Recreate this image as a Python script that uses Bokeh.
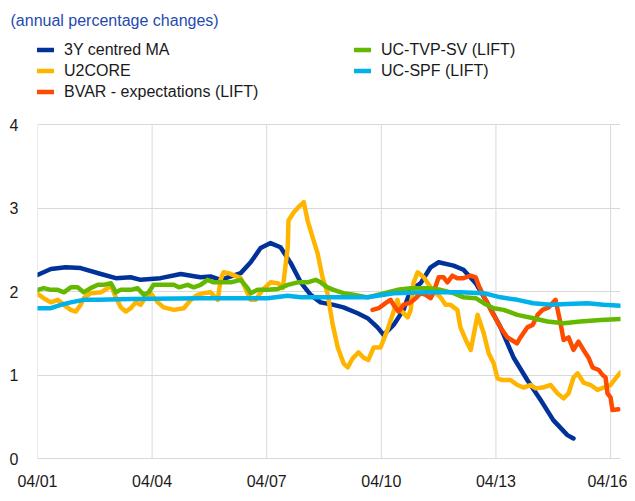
from bokeh.plotting import figure
from bokeh.models import Range1d, FixedTicker, Legend, LegendItem, Title
from bokeh.embed import file_html
from bokeh.resources import INLINE

# ---------------- data ----------------
tick_pos = [2001, 2004, 2007, 2010, 2013, 2016]
tick_labels = ["04/01", "04/04", "04/07", "04/10", "04/13", "04/16"]
y_ticks = [0, 1, 2, 3, 4]

ma_x = [2001.01, 2001.35, 2001.74, 2002.13, 2002.66, 2003.05, 2003.44, 2003.70, 2004.22, 2004.75,
        2005.14, 2005.27, 2005.53, 2005.79, 2006.32, 2006.58, 2006.84, 2007.10, 2007.36, 2007.63,
        2007.89, 2008.15, 2008.41, 2008.75, 2009.01, 2009.38, 2009.64, 2009.90, 2010.06, 2010.32,
        2010.58, 2010.77, 2011.03, 2011.29, 2011.50, 2011.89, 2012.15, 2012.47, 2012.78, 2013.12,
        2013.46, 2013.82, 2014.17, 2014.50, 2014.87, 2015.03]
ma_y = [2.20, 2.27, 2.29, 2.28, 2.21, 2.16, 2.17, 2.14, 2.16, 2.21,
        2.18, 2.17, 2.18, 2.14, 2.22, 2.35, 2.52, 2.58, 2.53, 2.34,
        2.11, 1.96, 1.87, 1.84, 1.81, 1.74, 1.68, 1.57, 1.48, 1.60,
        1.78, 2.02, 2.10, 2.29, 2.35, 2.31, 2.26, 2.10, 1.86, 1.57,
        1.21, 0.94, 0.70, 0.46, 0.28, 0.24]

u2_x = [2001.01, 2001.16, 2001.35, 2001.53, 2001.69, 2001.87, 2002.00, 2002.13, 2002.21, 2002.39,
        2002.66, 2002.84, 2002.92, 2003.05, 2003.18, 2003.31, 2003.44, 2003.57, 2003.70, 2003.83,
        2003.96, 2004.15, 2004.30, 2004.57, 2004.83, 2005.01, 2005.19, 2005.35, 2005.53, 2005.72,
        2005.79, 2005.87, 2006.00, 2006.32, 2006.58, 2006.71, 2006.89, 2007.10, 2007.29, 2007.42,
        2007.55, 2007.57, 2007.71, 2007.83, 2007.97, 2008.07, 2008.20, 2008.33, 2008.46, 2008.59,
        2008.72, 2008.86, 2009.01, 2009.12, 2009.25, 2009.40, 2009.53, 2009.66, 2009.80, 2009.98,
        2010.16, 2010.29, 2010.42, 2010.50, 2010.69, 2010.77, 2010.84, 2010.95, 2011.11, 2011.29,
        2011.55, 2011.68, 2011.81, 2011.99, 2012.07, 2012.21, 2012.34, 2012.52, 2012.68, 2012.81,
        2012.94, 2013.04, 2013.17, 2013.38, 2013.56, 2013.72, 2013.90, 2014.04, 2014.22, 2014.43,
        2014.61, 2014.77, 2014.90, 2015.03, 2015.14, 2015.29, 2015.48, 2015.66, 2015.82, 2016.00,
        2016.13, 2016.26]
u2_y = [1.97, 1.92, 1.87, 1.90, 1.84, 1.78, 1.76, 1.84, 1.92, 1.98,
        1.99, 2.04, 2.08, 1.93, 1.81, 1.76, 1.80, 1.87, 1.84, 1.93,
        1.98, 1.87, 1.81, 1.78, 1.80, 1.90, 1.96, 1.98, 1.99, 1.90,
        2.14, 2.23, 2.22, 2.16, 1.90, 1.90, 2.02, 2.11, 2.10, 2.04,
        2.53, 2.85, 2.95, 3.01, 3.07, 2.85, 2.65, 2.46, 2.17, 1.98,
        1.62, 1.33, 1.14, 1.09, 1.20, 1.27, 1.21, 1.18, 1.33, 1.33,
        1.54, 1.72, 1.90, 1.78, 1.69, 1.78, 2.10, 2.23, 2.17, 2.05,
        1.93, 1.84, 1.84, 1.78, 1.57, 1.42, 1.30, 1.72, 1.50, 1.26,
        1.14, 0.96, 0.94, 0.94, 0.88, 0.85, 0.88, 0.84, 0.85, 0.88,
        0.78, 0.72, 0.78, 0.97, 1.02, 0.91, 0.88, 0.82, 0.85, 0.88,
        0.96, 1.03]

bvar_x = [2009.77, 2009.93, 2010.11, 2010.24, 2010.32, 2010.45, 2010.58, 2010.77, 2010.90, 2011.03,
          2011.16, 2011.29, 2011.36, 2011.50, 2011.63, 2011.73, 2011.86, 2011.99, 2012.15, 2012.34,
          2012.47, 2012.55, 2012.73, 2012.91, 2013.12, 2013.30, 2013.55, 2013.64, 2013.82, 2013.96,
          2014.09, 2014.22, 2014.38, 2014.56, 2014.69, 2014.77, 2014.90, 2015.03, 2015.16, 2015.29,
          2015.42, 2015.53, 2015.69, 2015.79, 2015.87, 2015.92, 2016.00, 2016.05, 2016.21]
bvar_y = [1.78, 1.80, 1.86, 1.90, 1.84, 1.76, 1.84, 1.87, 1.92, 1.98,
          1.96, 1.92, 1.98, 2.17, 2.17, 2.11, 2.19, 2.16, 2.16, 2.19,
          2.17, 2.07, 1.90, 1.74, 1.57, 1.45, 1.38, 1.45, 1.57, 1.60,
          1.72, 1.78, 1.81, 1.90, 1.62, 1.42, 1.45, 1.30, 1.40, 1.30,
          1.21, 1.09, 1.06, 1.00, 0.97, 0.78, 0.73, 0.58, 0.59]

tvp_x = [2001.01, 2001.16, 2001.35, 2001.53, 2001.69, 2001.87, 2002.05, 2002.21, 2002.39, 2002.58,
         2002.73, 2002.92, 2003.05, 2003.18, 2003.44, 2003.62, 2003.78, 2003.91, 2004.04, 2004.30,
         2004.57, 2004.70, 2004.93, 2005.09, 2005.27, 2005.45, 2005.61, 2005.79, 2006.06, 2006.32,
         2006.50, 2006.58, 2006.76, 2007.02, 2007.29, 2007.55, 2007.81, 2008.07, 2008.28, 2008.41,
         2008.59, 2008.75, 2009.01, 2009.28, 2009.64, 2009.90, 2010.16, 2010.42, 2010.77, 2011.21,
         2011.55, 2011.89, 2012.15, 2012.47, 2012.68, 2012.94, 2013.20, 2013.56, 2013.98, 2014.35,
         2014.77, 2015.21, 2015.74, 2016.26]
tvp_y = [2.02, 2.04, 2.02, 2.02, 1.99, 2.05, 2.05, 1.99, 2.04, 2.08,
         2.08, 2.10, 1.99, 2.02, 2.02, 2.04, 1.96, 1.99, 2.08, 2.08,
         2.08, 2.05, 2.08, 2.05, 2.08, 2.14, 2.11, 2.11, 2.11, 2.14,
         2.04, 1.98, 2.02, 2.02, 2.03, 2.08, 2.11, 2.11, 2.14, 2.11,
         2.05, 2.02, 1.98, 1.96, 1.93, 1.96, 1.99, 2.02, 2.04, 2.04,
         2.02, 1.98, 1.93, 1.92, 1.86, 1.80, 1.78, 1.72, 1.68, 1.64,
         1.62, 1.64, 1.66, 1.67]

spf_x = [2001.01, 2001.35, 2001.61, 2001.87, 2002.21, 2002.58, 2003.44, 2005.27, 2007.02, 2007.55,
         2007.89, 2008.75, 2009.64, 2010.32, 2011.21, 2012.07, 2012.68, 2013.12, 2013.56, 2013.98,
         2014.43, 2014.87, 2015.39, 2015.82, 2016.26]
spf_y = [1.80, 1.80, 1.84, 1.87, 1.90, 1.90, 1.91, 1.92, 1.92, 1.95,
         1.93, 1.93, 1.93, 1.98, 1.99, 1.99, 1.98, 1.93, 1.90, 1.86,
         1.84, 1.85, 1.86, 1.84, 1.83]

# ---------------- figure ----------------
FONT = "Liberation Sans"
TXT = "#1a1a1a"
GRID = "#d9d9d9"
PX_PER_UNIT = 83.5          # vertical scale of the reference
FRAME_H = 458 - 30          # frame spans the legend area too (legends are clipped to the frame)

p = figure(width=627, height=493, output_backend="svg", toolbar_location=None,
           x_range=Range1d(2001.0, 2016.26), y_range=Range1d(0, FRAME_H / PX_PER_UNIT),
           min_border_left=37, min_border_right=7, min_border_top=30, min_border_bottom=35)
p.outline_line_color = None
p.background_fill_color = "white"

p.title = Title(text="(annual percentage changes)", align="left", offset=-27, standoff=3,
                text_font=FONT, text_font_size="16px", text_font_style="normal",
                text_color="#1f4bb0")

p.xaxis.ticker = FixedTicker(ticks=tick_pos)
p.xaxis.major_label_overrides = {t: l for t, l in zip(tick_pos, tick_labels)}
p.yaxis.ticker = FixedTicker(ticks=y_ticks)
for ax in (p.xaxis, p.yaxis):
    ax.major_tick_line_color = None
    ax.minor_tick_line_color = None
    ax.major_label_text_font = FONT
    ax.major_label_text_font_size = "16px"
    ax.major_label_text_color = TXT
p.xaxis.axis_line_color = GRID
p.yaxis.axis_line_color = None
p.xaxis.major_label_standoff = 8
p.yaxis.major_label_standoff = 13
p.xgrid.visible = False
p.ygrid.grid_line_color = GRID

# vertical grid lines only over the value range 0..4
p.segment(x0=tick_pos, x1=tick_pos, y0=[y_ticks[0]] * len(tick_pos), y1=[y_ticks[-1]] * len(tick_pos),
          line_color=GRID, line_width=1)

colors = {"ma": "#003299", "u2": "#FFB400", "bvar": "#FF4B00", "tvp": "#65B800", "spf": "#00B1EA"}
LW = 4.5
kw = dict(line_width=LW, line_join="round", line_cap="round")
r_ma = p.line(ma_x, ma_y, line_color=colors["ma"], **kw)
r_u2 = p.line(u2_x, u2_y, line_color=colors["u2"], **kw)
r_bvar = p.line(bvar_x, bvar_y, line_color=colors["bvar"], **kw)
r_tvp = p.line(tvp_x, tvp_y, line_color=colors["tvp"], **kw)
r_spf = p.line(spf_x, spf_y, line_color=colors["spf"], **kw)


def make_legend(items, loc):
    return Legend(items=items, location=loc, orientation="vertical",
                  label_text_font=FONT, label_text_font_size="16px", label_text_color=TXT,
                  glyph_width=17, glyph_height=21, label_height=21, label_standoff=10,
                  spacing=0, padding=0, margin=0, border_line_alpha=0, background_fill_alpha=0)

leg1 = make_legend([LegendItem(label="3Y centred MA", renderers=[r_ma]),
                    LegendItem(label="U2CORE", renderers=[r_u2]),
                    LegendItem(label="BVAR - expectations (LIFT)", renderers=[r_bvar])], (0, 356))
leg2 = make_legend([LegendItem(label="UC-TVP-SV (LIFT)", renderers=[r_tvp]),
                    LegendItem(label="UC-SPF (LIFT)", renderers=[r_spf])], (317, 377))
p.add_layout(leg1)
p.add_layout(leg2)

open("out.html", "w").write(file_html(p, INLINE))
